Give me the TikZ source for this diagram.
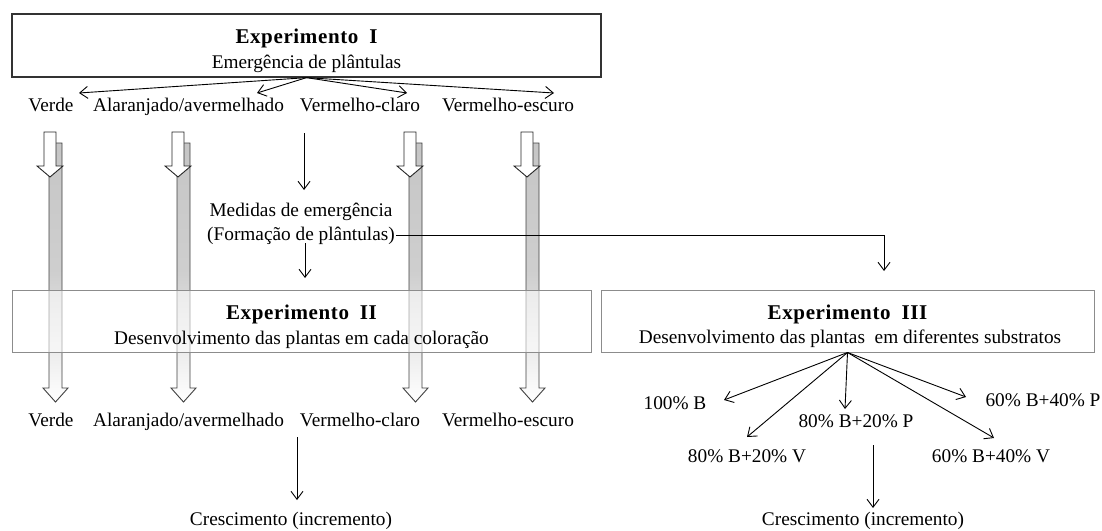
\documentclass[tikz,border=0pt]{standalone}
\usepackage{fontspec}
\setmainfont{Liberation Serif}
\usetikzlibrary{arrows.meta}
\newcommand{\blockarrow}[7]{%
  \path[#1] ({#2-#6},#3) -- ({#2+#6},#3) -- ({#2+#6},#4) -- ({#2+#7},#4)
    -- (#2,#5) -- ({#2-#7},#4) -- ({#2-#6},#4) -- cycle;}
\begin{document}
\begin{tikzpicture}[x=1pt,y=-1pt,
  every node/.style={inner sep=0pt, font=\fontsize{19.3}{23}\selectfont},
  lbl/.style={anchor=base},
  ttl/.style={anchor=base, font=\fontsize{21}{25}\selectfont\bfseries\addfontfeature{LetterSpace=3}},
  boxa/.style={draw=black!80, line width=1.3pt, fill=white},
  boxb/.style={draw=black!45, line width=1pt, fill=white, fill opacity=0.55},
  arr/.style={draw=black, line width=0.9pt, -{Straight Barb[length=8pt,width=12pt]}},
  hollow/.style={draw=black!85, line width=0.9pt, fill=white},
  longarr/.style={draw=black!75, line width=0.9pt, top color=gray!45, bottom color=white, middle color=gray!38},
]
\useasboundingbox (0,0) rectangle (1102,530);

% ---------- Experimento I ----------
\node[boxa, minimum width=589pt, minimum height=63pt] (box1) at (306.5,45.5) {};
\node[ttl] (t1) at (306.5,43) {Experimento\hspace{5pt} I};
\node[lbl] (s1) at (306.5,68) {Emergência de plântulas};

\coordinate (f1) at (79,93);
\coordinate (f2) at (257,93);
\coordinate (f3) at (407,93);
\coordinate (f4) at (554,93);
\foreach \c in {f1,f2,f3,f4} \draw[arr] (box1.south) -- (\c);

\node[lbl] (a1) at (51,111) {Verde};
\node[lbl] (a2) at (188.5,111) {Alaranjado/avermelhado};
\node[lbl] (a3) at (360,111) {Vermelho-claro};
\node[lbl] (a4) at (508,111) {Vermelho-escuro};

% ---------- long shaded arrows ----------
\blockarrow{longarr}{55.5}{143}{388}{402}{6.5}{12.5}
\blockarrow{longarr}{183.5}{143}{388}{402}{6.5}{12.5}
\blockarrow{longarr}{415.5}{143}{388}{402}{6.5}{12.5}
\blockarrow{longarr}{532.5}{143}{388}{402}{6.5}{12.5}

% ---------- short hollow arrows ----------
\blockarrow{hollow}{50}{132}{166}{177}{6}{13}
\blockarrow{hollow}{178}{132}{166}{177}{6}{13}
\blockarrow{hollow}{410}{132}{166}{177}{6}{13}
\blockarrow{hollow}{527}{132}{166}{177}{6}{13}

% ---------- Medidas ----------
\node[lbl] (m1) at (301,216) {Medidas de emergência};
\node[lbl] (m2) at (301,240) {(Formação de plântulas)};
\coordinate (ma) at (304,133);
\coordinate (mb) at (304,190);
\draw[arr] (ma) -- (mb);
\coordinate (mc) at (305,243);
\coordinate (md) at (305,278);
\draw[arr] (mc) -- (md);
\coordinate (c3) at (884,271);
\draw[arr] ([xshift=1pt]m2.east) -| (c3);

% ---------- Experimento II and III ----------
\node[boxb, minimum width=579pt, minimum height=62pt] (box2) at (301.5,321) {};
\node[boxb, minimum width=493pt, minimum height=62pt] (box3) at (847.5,321) {};
\node[ttl] (t2) at (301.5,319) {Experimento\hspace{5pt} II};
\node[lbl] (s2) at (301.5,344) {Desenvolvimento das plantas em cada coloração};
\node[ttl] (t3) at (847.5,319) {Experimento\hspace{5pt} III};
\node[lbl] (s3) at (850,343) {Desenvolvimento das plantas\ \ em diferentes substratos};

% ---------- bottom left ----------
\node[lbl] (b1) at (51,426) {Verde};
\node[lbl] (b2) at (188.5,426) {Alaranjado/avermelhado};
\node[lbl] (b3) at (360,426) {Vermelho-claro};
\node[lbl] (b4) at (508,426) {Vermelho-escuro};
\coordinate (la) at (297,437);
\coordinate (lb) at (297,500);
\draw[arr] (la) -- (lb);
\node[lbl] (cl) at (291,525) {Crescimento (incremento)};

% ---------- bottom right ----------
\coordinate (r1) at (724,400);
\coordinate (r2) at (747,437);
\coordinate (r3) at (845,409);
\coordinate (r4) at (994,438);
\coordinate (r5) at (966,397);
\foreach \c in {r1,r2,r3,r4,r5} \draw[arr] (box3.south) -- (\c);
\node[lbl] (p1) at (675,409) {100\% B};
\node[lbl] (p2) at (747,462) {80\% B+20\% V};
\node[lbl] (p3) at (856,427) {80\% B+20\% P};
\node[lbl] (p4) at (991,462) {60\% B+40\% V};
\node[lbl] (p5) at (1043,406) {60\% B+40\% P};
\coordinate (ra) at (873,445);
\coordinate (rb) at (873,508);
\draw[arr] (ra) -- (rb);
\node[lbl] (cr) at (863,525.5) {Crescimento (incremento)};
\end{tikzpicture}
\end{document}
